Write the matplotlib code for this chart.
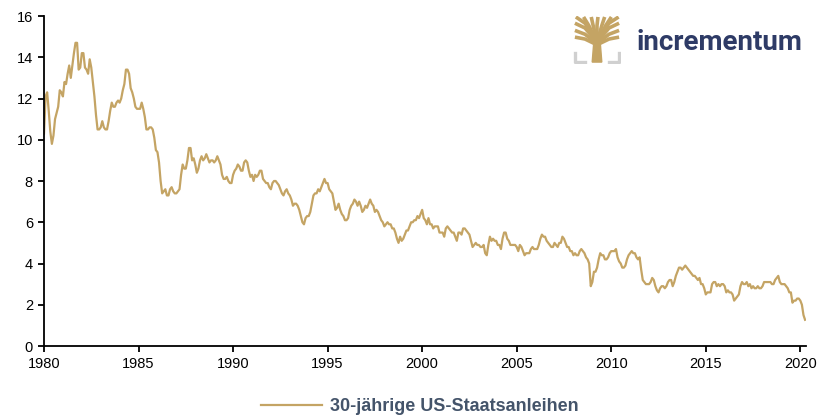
import numpy as np
import matplotlib.pyplot as plt
from matplotlib.patches import Polygon

# 30-year US Treasury yield, monthly, Jan 1980 - Apr 2020 (%)
yields_1980s = [
    10.3, 12.1, 12.3, 11.4, 10.4, 9.8, 10.2, 11.0, 11.3, 11.6, 12.4, 12.3,
    12.1, 12.8, 12.7, 13.2, 13.6, 13.0, 13.6, 14.2, 14.7, 14.7, 13.4, 13.5,
    14.2, 14.2, 13.5, 13.4, 13.2, 13.9, 13.5, 12.8, 12.1, 11.2, 10.5, 10.5,
    10.6, 10.9, 10.6, 10.5, 10.5, 10.9, 11.4, 11.8, 11.6, 11.6, 11.8, 11.9,
    11.8, 12.0, 12.4, 12.7, 13.4, 13.4, 13.2, 12.5, 12.3, 12.0, 11.6, 11.5,
    11.5, 11.5, 11.8, 11.5, 11.1, 10.5, 10.5, 10.6, 10.6, 10.5, 10.1, 9.5,
    9.4, 8.9, 8.0, 7.4, 7.5, 7.6, 7.3, 7.3, 7.6, 7.7, 7.5, 7.4,
    7.4, 7.5, 7.6, 8.3, 8.8, 8.6, 8.6, 9.0, 9.6, 9.6, 9.0, 9.1,
    8.8, 8.4, 8.6, 9.0, 9.2, 9.0, 9.1, 9.3, 9.1, 8.9, 9.0, 9.0,
    8.9, 9.0, 9.2, 9.0, 8.8, 8.3, 8.1, 8.1, 8.2, 8.0, 7.9, 7.9,
]
yields_1990s = [
    8.3, 8.5, 8.6, 8.8, 8.7, 8.5, 8.5, 8.9, 9.0, 8.9, 8.5, 8.2,
    8.3, 8.0, 8.3, 8.2, 8.3, 8.5, 8.5, 8.1, 8.0, 7.9, 7.9, 7.7,
    7.6, 7.9, 8.0, 8.0, 7.9, 7.8, 7.6, 7.4, 7.3, 7.5, 7.6, 7.4,
    7.3, 7.1, 6.8, 6.9, 6.9, 6.8, 6.6, 6.3, 6.0, 5.9, 6.2, 6.3,
    6.3, 6.5, 6.9, 7.3, 7.4, 7.4, 7.6, 7.5, 7.7, 7.9, 8.1, 7.9,
    7.9, 7.6, 7.5, 7.4, 7.0, 6.6, 6.7, 6.9, 6.6, 6.4, 6.3, 6.1,
    6.1, 6.2, 6.6, 6.8, 6.9, 7.1, 7.0, 6.8, 7.0, 6.8, 6.5, 6.6,
    6.8, 6.7, 6.9, 7.1, 6.9, 6.8, 6.5, 6.6, 6.5, 6.3, 6.1, 6.0,
    5.8, 5.9, 6.0, 5.9, 5.9, 5.7, 5.7, 5.5, 5.2, 5.0, 5.3, 5.1,
    5.2, 5.4, 5.6, 5.6, 5.8, 6.0, 6.0, 6.1, 6.1, 6.3, 6.2, 6.4,
]
yields_2000s = [
    6.6, 6.2, 6.1, 5.9, 6.2, 5.9, 5.9, 5.7, 5.8, 5.8, 5.8, 5.5,
    5.5, 5.5, 5.3, 5.7, 5.8, 5.7, 5.6, 5.5, 5.5, 5.3, 5.1, 5.5,
    5.5, 5.4, 5.7, 5.7, 5.6, 5.5, 5.4, 5.1, 4.8, 4.9, 5.0, 4.9,
    4.9, 4.8, 4.8, 4.9, 4.5, 4.4, 4.9, 5.3, 5.1, 5.2, 5.1, 5.1,
    4.9, 4.9, 4.7, 5.2, 5.5, 5.5, 5.2, 5.1, 4.9, 4.9, 4.9, 4.9,
    4.8, 4.6, 4.9, 4.8, 4.6, 4.4, 4.5, 4.5, 4.5, 4.7, 4.8, 4.7,
    4.7, 4.7, 4.9, 5.2, 5.4, 5.3, 5.3, 5.1, 5.0, 4.9, 4.8, 4.8,
    5.0, 4.9, 4.8, 5.0, 5.0, 5.3, 5.2, 5.0, 4.8, 4.8, 4.6, 4.6,
    4.4, 4.5, 4.4, 4.4, 4.6, 4.7, 4.6, 4.5, 4.3, 4.2, 4.0, 2.9,
    3.1, 3.6, 3.6, 3.8, 4.2, 4.5, 4.4, 4.4, 4.2, 4.2, 4.3, 4.5,
]
yields_2010s = [
    4.6, 4.6, 4.6, 4.7, 4.3, 4.1, 4.0, 3.8, 3.8, 3.9, 4.2, 4.4,
    4.5, 4.6, 4.5, 4.5, 4.3, 4.2, 4.3, 3.7, 3.2, 3.1, 3.0, 3.0,
    3.0, 3.1, 3.3, 3.2, 2.9, 2.7, 2.6, 2.8, 2.9, 2.9, 2.8, 2.9,
    3.1, 3.2, 3.2, 2.9, 3.1, 3.4, 3.6, 3.8, 3.8, 3.7, 3.8, 3.9,
    3.8, 3.7, 3.6, 3.5, 3.4, 3.4, 3.3, 3.2, 3.3, 3.0, 3.0, 2.8,
    2.5, 2.6, 2.6, 2.6, 3.0, 3.1, 3.1, 2.9, 3.0, 2.9, 3.0, 3.0,
    2.9, 2.6, 2.7, 2.6, 2.6, 2.5, 2.2, 2.3, 2.4, 2.5, 2.9, 3.1,
    3.0, 3.0, 3.1, 2.9, 3.0, 2.8, 2.9, 2.8, 2.8, 2.9, 2.8, 2.8,
    2.9, 3.1, 3.1, 3.1, 3.1, 3.1, 3.0, 3.0, 3.2, 3.3, 3.4, 3.1,
    3.0, 3.0, 3.0, 2.9, 2.8, 2.6, 2.6, 2.1, 2.2, 2.2, 2.3, 2.3,
]
yields_2020 = [2.2, 2.0, 1.5, 1.27]

series_label = "30-jährige US-Staatsanleihen"
year_ticks = list(range(1980, 2021, 5))
value_ticks = list(range(0, 17, 2))

gold = "#C4A464"
navy = "#2E3B66"
slate = "#44546A"

values = np.array(yields_1980s + yields_1990s + yields_2000s + yields_2010s + yields_2020)
years = 1980 + np.arange(len(values)) / 12.0

plt.rcParams["font.family"] = ["Liberation Sans", "DejaVu Sans"]

fig = plt.figure(figsize=(8.26, 4.16), dpi=100)
ax = fig.add_axes([44 / 826, 1 - 346 / 416, 762 / 826, 330 / 416])

ax.plot(years, values, color=gold, lw=1.6, label=series_label)

ax.set_xlim(1980, 2020.3)
ax.set_ylim(0, 16)
ax.set_xticks(year_ticks)
ax.set_yticks(value_ticks)
for side in ["top", "right"]:
    ax.spines[side].set_visible(False)
for side in ["left", "bottom"]:
    ax.spines[side].set_linewidth(1.3)
ax.tick_params(axis="both", labelsize=10.5, length=4, width=1.3, direction="out", pad=4)

# legend below the plot
leg = fig.legend(loc="lower center", bbox_to_anchor=(0.508, -0.037), frameon=False,
                 handlelength=3.4, handletextpad=0.4, prop={"weight": "bold", "size": 13})
for t in leg.get_texts():
    t.set_color(slate)

# logo: tree icon + wordmark
lax = fig.add_axes([573 / 826, 1 - 64 / 416, 48 / 826, 48 / 416])
lax.set_xlim(0, 1)
lax.set_ylim(0, 1)
lax.axis("off")
lax.add_patch(Polygon([(0.40, 0.04), (0.60, 0.04), (0.57, 0.42), (0.43, 0.42)], color=gold))
branches = [
    [(0.5, 0.40), (0.25, 0.52), (0.04, 0.56)],
    [(0.5, 0.42), (0.25, 0.62), (0.04, 0.70)],
    [(0.5, 0.45), (0.25, 0.75), (0.04, 0.85)],
    [(0.5, 0.45), (0.25, 0.85), (0.06, 0.98)],
    [(0.5, 0.45), (0.33, 0.8), (0.22, 0.98)],
    [(0.5, 0.45), (0.42, 0.8), (0.38, 0.98)],
    [(0.5, 0.45), (0.5, 0.8), (0.52, 0.98)],
    [(0.5, 0.45), (0.6, 0.8), (0.66, 0.98)],
    [(0.5, 0.45), (0.68, 0.8), (0.80, 0.98)],
    [(0.5, 0.45), (0.75, 0.85), (0.95, 0.98)],
    [(0.5, 0.45), (0.75, 0.75), (0.96, 0.85)],
    [(0.5, 0.42), (0.75, 0.62), (0.96, 0.70)],
    [(0.5, 0.40), (0.75, 0.52), (0.96, 0.56)],
]
for b in branches:
    bx, by = zip(*b)
    lax.plot(bx, by, color=gold, lw=2.6, solid_capstyle="butt")
lax.plot([0.04, 0.04, 0.25], [0.22, 0.04, 0.04], color="#D0D0D0", lw=2.4)
lax.plot([0.75, 0.96, 0.96], [0.04, 0.04, 0.22], color="#D0D0D0", lw=2.4)

fig.text(636 / 826, 1 - 43 / 416, "incrementum", color=navy, fontsize=20,
         family=["Roboto", "DejaVu Sans"], weight="bold", va="center", ha="left")

fig.savefig("out.png", dpi=100)
